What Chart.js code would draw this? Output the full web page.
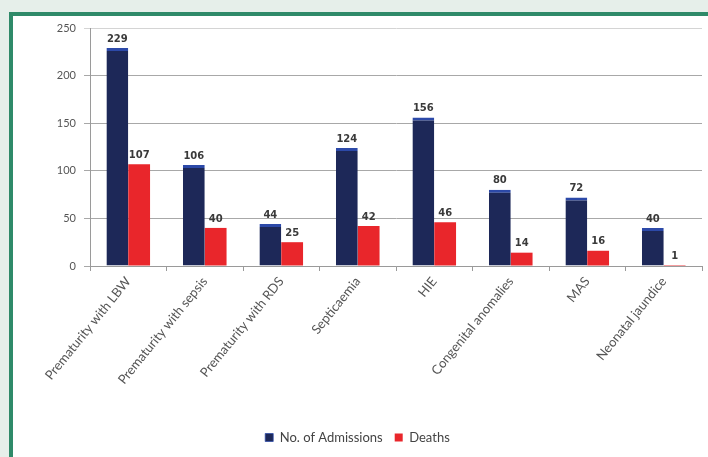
<!DOCTYPE html>
<html>
<head>
<meta charset="utf-8">
<script src="https://cdn.jsdelivr.net/npm/chart.js@4/dist/chart.umd.min.js"></script>
<style>
  html, body { margin: 0; padding: 0; }
  body { width: 708px; height: 457px; background: #e6efea; overflow: hidden; position: relative; }
  #frame {
    position: absolute; left: 9px; top: 12px; width: 720px; height: 460px;
    border-left: 4px solid #2f8a69; border-top: 4px solid #2f8a69; background: #fff;
  }
  #wrap { position: absolute; left: 0; top: 0; width: 695px; height: 441px; }
</style>
</head>
<body>
<div id="frame"><div id="wrap"><canvas id="causes"></canvas></div></div>
<script>
  const categories = ['Prematurity with LBW', 'Prematurity with sepsis', 'Prematurity with RDS',
    'Septicaemia', 'HIE', 'Congenital anomalies', 'MAS', 'Neonatal jaundice'];
  const admissions = [229, 106, 44, 124, 156, 80, 72, 40];
  const deaths = [107, 40, 25, 42, 46, 14, 16, 1];
  const yTicks = [0, 50, 100, 150, 200, 250];

  // value labels on top of each bar
  const barLabels = {
    id: 'barLabels',
    afterDatasetsDraw(chart) {
      const ctx = chart.ctx;
      ctx.save();
      ctx.font = 'bold 10px "DejaVu Sans"';
      ctx.fillStyle = '#3a3a3a';
      ctx.textAlign = 'center';
      ctx.textBaseline = 'bottom';
      chart.data.datasets.forEach((ds, i) => {
        chart.getDatasetMeta(i).data.forEach((bar, j) => {
          ctx.fillText(ds.data[j], bar.x, bar.y - 4);
        });
      });
      ctx.restore();
    }
  };

  const causes_data = {
    labels: categories,
    datasets: [
      {
        label: 'No. of Admissions',
        data: admissions,
        backgroundColor: '#1d2858',
        borderColor: '#2c49a8',
        borderWidth: { top: 3, left: 0, right: 0, bottom: 0 },
        borderSkipped: 'bottom',
        categoryPercentage: 0.57,
        barPercentage: 1.0,
      },
      {
        label: 'Deaths',
        data: deaths,
        backgroundColor: '#e9262b',
        categoryPercentage: 0.57,
        barPercentage: 1.0,
      },
    ]
  };

  const causes_config = {
    type: 'bar',
    data: causes_data,
    plugins: [barLabels],
    options: {
      responsive: true,
      maintainAspectRatio: false,
      animation: false,
      layout: { padding: { top: 12, right: 6, left: 0, bottom: 3 } },
      plugins: {
        legend: {
          position: 'bottom',
          labels: {
            boxWidth: 8, boxHeight: 8, padding: 12,
            color: '#444',
            font: { family: 'Lato', size: 13 },
          }
        },
        title: { display: false },
        tooltip: { enabled: false },
      },
      scales: {
        x: {
          grid: { drawOnChartArea: false, drawTicks: true, tickLength: 5, color: '#9a9a9a' },
          border: { color: '#9a9a9a' },
          ticks: {
            minRotation: 51, maxRotation: 51, autoSkip: false,
            color: '#555',
            font: { family: 'Lato', size: 13 },
          },
          afterFit(scale) { scale.height = 153; },
        },
        y: {
          min: 0,
          max: 250,
          afterBuildTicks(scale) { scale.ticks = yTicks.map(v => ({ value: v })); },
          grid: {
            color: ctx => ctx.tick && ctx.tick.value === 250 ? '#d4d4d4' : '#a8a8a8',
            tickLength: 6,
          },
          border: { color: '#9a9a9a' },
          ticks: {
            color: '#555',
            padding: 8,
            font: { family: 'Lato', size: 11 },
          },
          afterFit(scale) { scale.width = 77; scale.paddingTop = 0; scale.paddingBottom = 0; },
        },
      }
    },
  };

  const causesChart = new Chart(document.getElementById('causes'), causes_config);
</script>
</body>
</html>
